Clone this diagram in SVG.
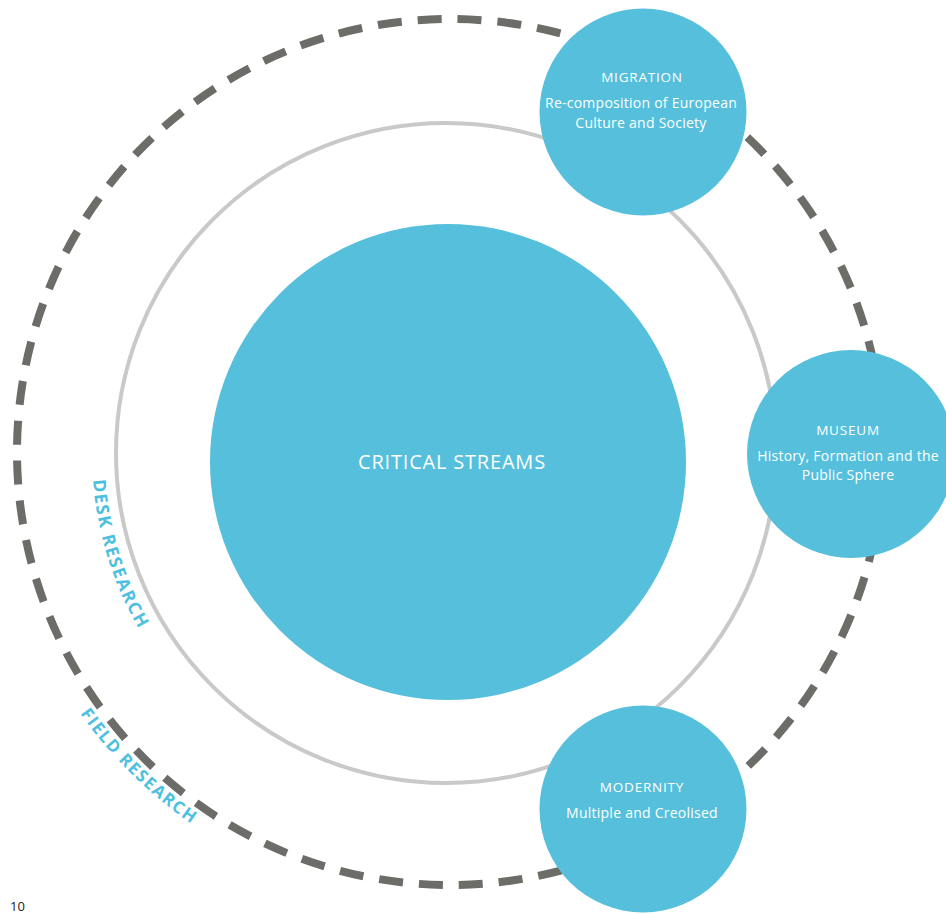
<svg xmlns="http://www.w3.org/2000/svg" width="946" height="914" viewBox="0 0 946 914">
<style>
.node{fill:#55bfdc}
.t{font-family:"Open Sans","Noto Sans",sans-serif;fill:#ffffff;text-anchor:middle}
.h{font-size:13.5px;letter-spacing:0.8px}
.s{font-size:14px;letter-spacing:0.25px}
.lbl{font-family:"Open Sans","Noto Sans",sans-serif;font-weight:bold;fill:#4dbfe0}
</style>
<defs>
<path id="deskArc" d="M 113.3 331.9 A 354 354 0 0 0 269 759.6"/>
<path id="fieldArc" d="M 3.9 530.7 A 453 453 0 0 0 371.4 898.1"/>
</defs>
<rect width="946" height="914" fill="#ffffff"/>
<g id="connectors">
<circle id="field-ring" cx="450" cy="452" r="433" fill="none" stroke="#6c6d68" stroke-width="8" stroke-dasharray="24 16.01" stroke-dashoffset="-7"/>
<circle id="desk-ring" cx="446" cy="453" r="330" fill="none" stroke="#c9c9c9" stroke-width="4"/>
</g>
<g id="labels">
<text class="lbl" font-size="17.5" letter-spacing="1.6"><textPath href="#deskArc" startOffset="46.5%" text-anchor="middle">DESK RESEARCH</textPath></text>
<text class="lbl" font-size="17" letter-spacing="1.5"><textPath href="#fieldArc" startOffset="50.4%" text-anchor="middle">FIELD RESEARCH</textPath></text>
</g>
<g id="critical-streams">
<circle class="node" cx="448" cy="462" r="238"/>
<text class="t" x="452" y="469" font-size="20" letter-spacing="0.8">CRITICAL STREAMS</text>
</g>
<g id="migration">
<circle class="node" cx="643" cy="112" r="103.5"/>
<text class="t h" x="642" y="82">MIGRATION</text>
<text class="t s" x="641" y="108">Re-composition of European</text>
<text class="t s" x="641" y="128">Culture and Society</text>
</g>
<g id="museum">
<circle class="node" cx="851" cy="454" r="104"/>
<text class="t h" x="848" y="435">MUSEUM</text>
<text class="t s" x="848" y="461">History, Formation and the</text>
<text class="t s" x="848" y="480">Public Sphere</text>
</g>
<g id="modernity">
<circle class="node" cx="643" cy="809" r="103.5"/>
<text class="t h" x="642" y="792">MODERNITY</text>
<text class="t s" x="642" y="818">Multiple and Creolised</text>
</g>
<text x="10" y="911" font-family="Open Sans, sans-serif" font-size="13" fill="#222222">10</text>
</svg>
